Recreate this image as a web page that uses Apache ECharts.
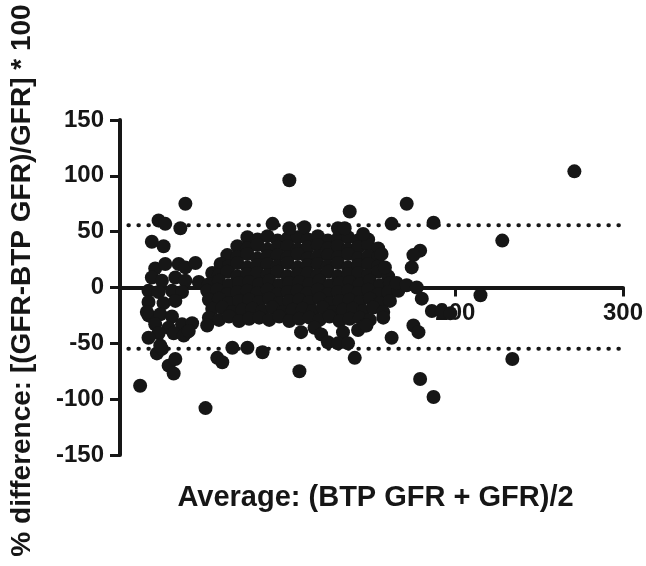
<!DOCTYPE html>
<html>
<head>
<meta charset="utf-8">
<script src="https://cdn.jsdelivr.net/npm/echarts@6/dist/echarts.min.js"></script>
<style>
  html, body { margin: 0; padding: 0; background: #fff; }
  #chart { width: 646px; height: 566px; }
</style>
</head>
<body>
<div id="chart"></div>
<script>
// values: [average GFR, % difference]
const outliers = [
  [271, 104], [101, 96], [39, 75], [171, 75], [137, 68], [187, 58], [162, 57], [91, 57],
  [23, 60], [27, 57], [36, 53], [101, 53], [110, 54], [130, 53], [134, 53], [145, 48],
  [19, 41], [26, 37], [45, 22], [228, 42], [179, 33], [175, 29], [156, 30], [174, 18],
  [158, 18], [165, 4], [171, 2], [177, 0], [180, -10], [186, -21], [192, -22], [197, -23],
  [215, -7], [157, -27], [147, -34], [175, -34], [178, -40], [162, -45], [108, -40],
  [124, -49], [130, -50], [136, -50], [140, -63], [107, -75], [179, -82], [187, -98],
  [234, -64], [12, -88], [51, -108], [22, -59], [25, -55], [29, -70], [33, -64], [32, -77],
  [58, -63], [61, -67], [67, -54], [76, -54], [85, -58], [24, -52]
];

const leftCluster = [
  [21, 17], [27, 21], [35, 21], [39, 18],
  [19, 9], [25, 6], [33, 9], [39, 6],
  [17, -3], [23, -4], [31, -3], [37, -4],
  [17, -13], [26, -14], [33, -12],
  [17, -25], [20, -27], [24, -24], [31, -26],
  [21, -33], [29, -36], [37, -33], [43, -32],
  [23, -41], [32, -41], [40, -40],
  [16, -22], [38, -43], [41, -39], [52, -34], [17, -45]
];

const coreCluster = [
  [76, 45], [82, 43], [88, 46], [94, 42], [100, 44], [106, 45], [112, 43], [118, 46], [124, 42], [130, 44], [136, 45], [142, 42], [148, 43],
  [70, 37], [76, 35], [82, 38], [88, 34], [94, 36], [100, 37], [106, 34], [112, 36], [118, 38], [124, 35], [130, 37], [136, 34], [142, 36], [148, 38], [154, 35],
  [64, 29], [70, 27], [76, 30], [82, 26], [88, 28], [94, 29], [100, 27], [106, 30], [112, 26], [118, 28], [124, 29], [130, 27], [136, 30], [142, 26], [148, 28], [154, 27],
  [60, 21], [65, 19], [70, 22], [76, 18], [82, 20], [88, 21], [94, 19], [100, 22], [106, 18], [112, 20], [118, 21], [124, 19], [130, 22], [136, 18], [142, 20], [148, 21], [154, 19],
  [55, 13], [59, 11], [64, 14], [70, 10], [76, 12], [82, 13], [88, 11], [94, 14], [100, 10], [106, 12], [112, 13], [118, 11], [124, 14], [130, 10], [136, 12], [142, 13], [148, 11], [154, 14], [160, 10],
  [47, 5], [53, 3], [59, 6], [65, 2], [71, 4], [77, 5], [83, 3], [89, 6], [95, 2], [101, 4], [107, 5], [113, 3], [119, 6], [125, 2], [131, 4], [137, 5], [143, 3], [149, 6], [155, 2], [161, 4],
  [52, -3], [58, -2], [64, -6], [70, -4], [76, -3], [82, -5], [88, -2], [94, -6], [100, -4], [106, -3], [112, -5], [118, -2], [124, -6], [130, -4], [136, -3], [142, -5], [148, -2], [154, -6], [160, -4], [166, -3],
  [53, -11], [59, -10], [65, -14], [71, -12], [77, -11], [83, -13], [89, -10], [95, -14], [101, -12], [107, -11], [113, -13], [119, -10], [125, -14], [131, -12], [137, -11], [143, -13], [149, -10], [155, -14], [161, -12],
  [55, -19], [61, -18], [67, -22], [73, -20], [79, -19], [85, -21], [91, -18], [97, -22], [103, -20], [109, -19], [115, -21], [121, -18], [127, -22], [133, -20], [139, -19], [145, -21], [151, -18], [157, -22],
  [53, -27], [59, -29], [65, -26], [71, -30], [77, -28], [83, -27], [89, -29], [95, -26], [101, -30], [107, -28], [113, -27], [119, -29], [125, -26], [131, -30], [137, -28], [143, -27], [149, -29],
  [116, -36], [142, -38], [146, -34], [120, -42], [133, -40]
];

// dotted limits of agreement
const limitsOfAgreement = [55.7, -54.8];
const limitXRange = [5, 300];

const xTicks = [0, 300, 100];   // min, max, interval
const yTicks = [-150, 150, 50];

const ink = '#161616';
const font = 'Liberation Sans, Arial, sans-serif';

// plot box, px
const gridTop = 120, gridBottom = 111;
const plotH = 566 - gridTop - gridBottom;
// lift the x axis so it sits on y = 0
const xAxisLift = -plotH * (0 - yTicks[0]) / (yTicks[1] - yTicks[0]);

const chart = echarts.init(document.getElementById('chart'));

const limitSeries = limitsOfAgreement.map(v => ({
  type: 'line',
  data: limitXRange.map(x => [x, v]),
  symbol: 'none',
  silent: true,
  z: 1,
  lineStyle: { color: ink, width: 4, type: [0.5, 9.5], cap: 'round' }
}));

const option = {
  animation: false,
  backgroundColor: '#ffffff',
  grid: { left: 120, right: 23, top: gridTop, bottom: gridBottom, outerBoundsMode: 'none', containLabel: false },
  xAxis: {
    type: 'value',
    position: 'bottom',
    offset: xAxisLift,
    min: xTicks[0], max: xTicks[1], interval: xTicks[2],
    name: 'Average: (BTP GFR + GFR)/2',
    nameLocation: 'middle',
    nameGap: 196,
    nameTextStyle: { color: ink, fontFamily: font, fontWeight: 'bold', fontSize: 29, padding: [0, 0, 0, 8] },
    axisLine: { onZero: false, lineStyle: { color: ink, width: 4 } },
    axisTick: { show: true, length: 9, lineStyle: { color: ink, width: 3 } },
    axisLabel: {
      color: ink, fontFamily: font, fontWeight: 'bold', fontSize: 24, margin: 14,
      formatter: v => (v === 0 ? '' : v)
    },
    splitLine: { show: false }
  },
  yAxis: {
    type: 'value',
    min: yTicks[0], max: yTicks[1], interval: yTicks[2],
    name: '% difference: [(GFR-BTP GFR)/GFR] * 100',
    nameLocation: 'middle',
    nameRotate: 90,
    nameGap: 84,
    nameTextStyle: { color: ink, fontFamily: font, fontWeight: 'bold', fontSize: 28, padding: [0, 0, 0, 14] },
    axisLine: { show: true, onZero: false, lineStyle: { color: ink, width: 4 } },
    axisTick: { show: true, length: 10, lineStyle: { color: ink, width: 3 } },
    axisLabel: { color: ink, fontFamily: font, fontWeight: 'bold', fontSize: 24, margin: 16 },
    splitLine: { show: false }
  },
  series: [
    ...limitSeries,
    {
      type: 'scatter',
      data: [...coreCluster, ...leftCluster, ...outliers],
      symbol: 'circle',
      symbolSize: 14,
      z: 3,
      itemStyle: { color: ink, opacity: 1 }
    }
  ]
};

chart.setOption(option);
</script>
</body>
</html>
